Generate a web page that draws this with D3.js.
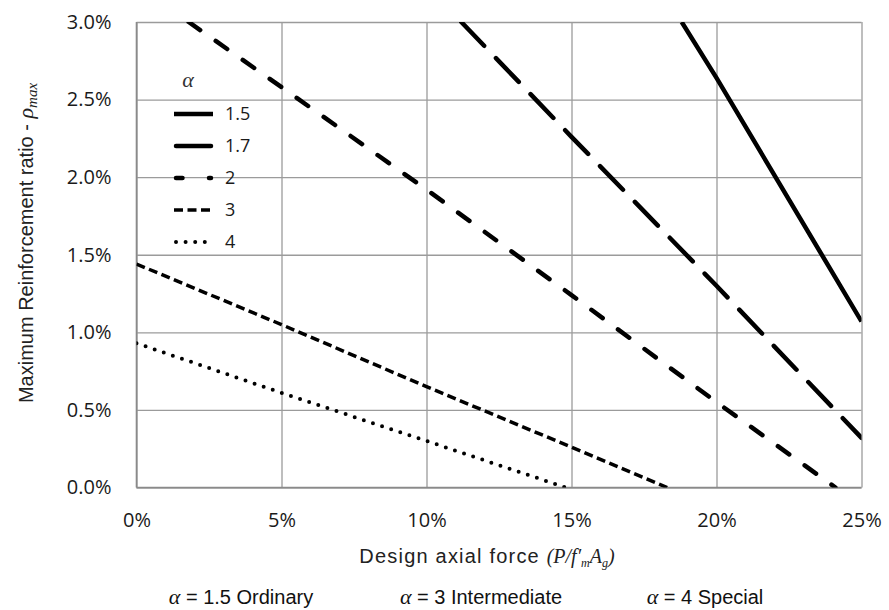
<!DOCTYPE html>
<html lang="en">
<head>
  <meta charset="UTF-8" />
  <title>Maximum reinforcement ratio</title>
  <script src="https://cdn.jsdelivr.net/npm/d3@7"></script>
  <style>
    body { margin: 0; background: #fff; }
    .tick-label { font-family: "Open Sans", sans-serif; font-size: 20px; fill: #1a1a1a; }
    .title { font-family: "Liberation Sans", Arial, sans-serif; font-size: 20px; fill: #222; }
    .math { font-family: "Liberation Serif", "Times New Roman", serif; font-style: italic; letter-spacing: 0; }
    .note { font-family: "Liberation Sans Narrow", "Arial Narrow", "Liberation Sans", sans-serif; font-size: 20px; fill: #111; }
  </style>
</head>
<body>
<div id="chart"></div>
<script>
  // axial force ratio P/f'm Ag (%) and max reinforcement ratio (%)
  var xTicks = [0, 5, 10, 15, 20, 25];
  var yTicks = [0, 0.5, 1.0, 1.5, 2.0, 2.5, 3.0];
  var alphas = ["1.5", "1.7", "2", "3", "4"];

  var x15 = [18.8, 20, 25];
  var rho15 = [3.0, 2.64, 1.07];
  var x17 = [11.2, 15, 20, 25];
  var rho17 = [3.0, 2.26, 1.30, 0.32];
  var x2 = [1.8, 5, 10, 15, 20, 24.1];
  var rho2 = [3.0, 2.58, 1.92, 1.24, 0.55, 0];
  var x3 = [0, 5, 10, 15, 18.3];
  var rho3 = [1.44, 1.05, 0.65, 0.26, 0];
  var x4 = [0, 5, 10, 14.8];
  var rho4 = [0.93, 0.61, 0.30, 0];

  var notes = ["1.5 Ordinary", "3 Intermediate", "4 Special"];

  // line styles; legDash is how the pattern looks in the short legend sample
  var series = [
    { a: alphas[0], xs: x15, ys: rho15, dash: null, legDash: null, w: 4.5, cap: "butt" },
    { a: alphas[1], xs: x17, ys: rho17, dash: "33,17", legDash: null, w: 4.5, cap: "round" },
    { a: alphas[2], xs: x2, ys: rho2, dash: "14,19", legDash: "6.5,26.5,2,10", w: 4.5, cap: "round" },
    { a: alphas[3], xs: x3, ys: rho3, dash: "9,4.5", legDash: "9,4.5", w: 3.5, cap: "butt" },
    { a: alphas[4], xs: x4, ys: rho4, dash: "0,9.6", legDash: "0,9.6", w: 4, cap: "round" }
  ];

  var W = 889, H = 610;
  var pl = 136.5, pr = 861.5, pt = 22, pb = 487.5;

  var svg = d3.select("#chart").append("svg")
    .attr("width", W)
    .attr("height", H);

  var x = d3.scaleLinear().domain([0, 25]).range([pl, pr]);
  var y = d3.scaleLinear().domain([0, 3]).range([pb, pt]);

  // grid
  svg.append("g")
    .attr("transform", "translate(0," + pb + ")")
    .call(d3.axisBottom(x).tickValues(xTicks).tickSize(-(pb - pt)).tickFormat(""))
    .call(function(g) { g.select(".domain").remove(); })
    .selectAll("line").attr("stroke", "#9b9b9b").attr("stroke-width", 1.3);

  svg.append("g")
    .attr("transform", "translate(" + pl + ",0)")
    .call(d3.axisLeft(y).tickValues(yTicks).tickSize(-(pr - pl)).tickFormat(""))
    .call(function(g) { g.select(".domain").remove(); })
    .selectAll("line").attr("stroke", "#9b9b9b").attr("stroke-width", 1.3);

  // axis lines
  svg.append("line").attr("x1", pl).attr("x2", pl).attr("y1", pt).attr("y2", pb)
    .attr("stroke", "#8a8a8a").attr("stroke-width", 1.6);
  svg.append("line").attr("x1", pl).attr("x2", pr).attr("y1", pb).attr("y2", pb)
    .attr("stroke", "#8a8a8a").attr("stroke-width", 1.6);

  // tick labels
  var yAx = svg.append("g")
    .attr("transform", "translate(" + pl + ",0)")
    .call(d3.axisLeft(y).tickValues(yTicks).tickSize(0).tickPadding(25)
      .tickFormat(function(d) { return d.toFixed(1) + "%"; }));
  yAx.select(".domain").remove();
  yAx.selectAll("text").attr("class", "tick-label");
  yAx.attr("font-size", null).attr("font-family", null);

  var xAx = svg.append("g")
    .attr("transform", "translate(0," + pb + ")")
    .call(d3.axisBottom(x).tickValues(xTicks).tickSize(0).tickPadding(25)
      .tickFormat(function(d) { return d + "%"; }));
  xAx.select(".domain").remove();
  xAx.selectAll("text").attr("class", "tick-label");
  xAx.attr("font-size", null).attr("font-family", null);

  // lines
  svg.append("clipPath").attr("id", "plot")
    .append("rect").attr("x", pl).attr("y", pt)
    .attr("width", pr - pl).attr("height", pb - pt);

  var line = d3.line()
    .x(function(d) { return x(d[0]); })
    .y(function(d) { return y(d[1]); });

  svg.append("g").attr("clip-path", "url(#plot)")
    .selectAll("path")
    .data(series)
    .enter()
    .append("path")
    .attr("d", function(s) { return line(d3.zip(s.xs, s.ys)); })
    .attr("fill", "none")
    .attr("stroke", "#000")
    .attr("stroke-width", function(s) { return s.w; })
    .attr("stroke-linecap", function(s) { return s.cap; })
    .attr("stroke-dasharray", function(s) { return s.dash; });

  // legend
  var lg = svg.append("g");
  lg.append("text")
    .attr("class", "math")
    .attr("x", 188).attr("y", 87)
    .attr("text-anchor", "middle")
    .attr("font-size", 22)
    .attr("fill", "#333")
    .text("α");

  var rows = lg.selectAll("g.row")
    .data(series)
    .enter()
    .append("g")
    .attr("class", "row")
    .attr("transform", function(d, i) { return "translate(0," + (114 + i * 32) + ")"; });

  rows.append("line")
    .attr("x1", function(s) { return s.cap == "round" ? 176 : 174; })
    .attr("x2", function(s) { return s.cap == "round" ? 211 : 213; })
    .attr("stroke", "#000")
    .attr("stroke-width", function(s) { return s.w; })
    .attr("stroke-linecap", function(s) { return s.cap; })
    .attr("stroke-dasharray", function(s) { return s.legDash; });

  rows.append("text")
    .attr("class", "tick-label")
    .attr("x", 225).attr("dy", "0.36em")
    .style("font-size", "18px")
    .text(function(s) { return s.a; });

  // axis titles
  var xt = svg.append("text")
    .attr("class", "title")
    .attr("x", 487).attr("y", 563)
    .attr("text-anchor", "middle")
    .style("letter-spacing", "1.2px");
  xt.append("tspan").text("Design axial force ");
  xt.append("tspan").attr("class", "math").text("(P/f′");
  xt.append("tspan").attr("class", "math").attr("font-size", 12).attr("dy", 4).text("m");
  xt.append("tspan").attr("class", "math").attr("dy", -4).text("A");
  xt.append("tspan").attr("class", "math").attr("font-size", 12).attr("dy", 4).text("g");
  xt.append("tspan").attr("class", "math").attr("dy", -4).text(")");

  var yt = svg.append("text")
    .attr("class", "title")
    .attr("transform", "translate(33,243) rotate(-90)")
    .attr("text-anchor", "middle");
  yt.append("tspan").text("Maximum Reinforcement ratio - ");
  yt.append("tspan").attr("class", "math").attr("font-size", 22).text("ρ");
  yt.append("tspan").attr("class", "math").attr("font-size", 15).attr("dy", 4).text("max");

  // alpha classes under the chart
  var nt = svg.selectAll("text.note")
    .data(notes)
    .enter()
    .append("text")
    .attr("class", "note")
    .attr("x", function(d, i) { return [241, 481, 705][i]; })
    .attr("y", 604)
    .attr("text-anchor", "middle");
  nt.append("tspan").attr("class", "math").attr("font-size", 22).text("α");
  nt.append("tspan").text(function(d) { return " = " + d; });
</script>
</body>
</html>
